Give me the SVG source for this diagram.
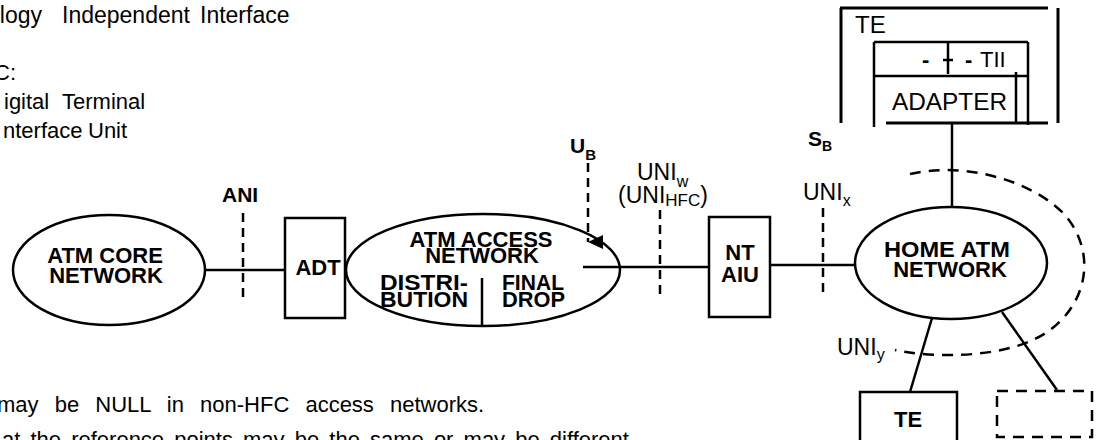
<svg xmlns="http://www.w3.org/2000/svg" width="1096" height="440" viewBox="0 0 1096 440">
<style>
text { font-family: "Liberation Sans", Arial, sans-serif; fill: #000; }
.t { font-size: 22px; }
.f { font-size: 24px; }
.n { font-size: 23px; }
.b { font-size: 22px; font-weight: bold; }
.lbl { font-size: 21px; font-weight: bold; }
.s { stroke: #000; stroke-width: 2.5; fill: none; }
.w { stroke: #000; stroke-width: 3; fill: none; }
.d { stroke: #000; stroke-width: 2.5; fill: none; stroke-dasharray: 9 6; }
.dl { stroke: #000; stroke-width: 2.5; fill: none; stroke-dasharray: 11 8; }
.m { text-anchor: middle; }
</style>
<defs>
<marker id="arr" markerUnits="userSpaceOnUse" markerWidth="16" markerHeight="16" refX="8" refY="15" orient="auto-start-reverse" viewBox="0 0 16 16">
<polygon points="1,0 15,0 8,15" fill="#000"/>
</marker>
</defs>
<rect width="1096" height="440" fill="#fff"/>

<g id="notes">
<text class="n" y="23"><tspan x="-13">ology</tspan><tspan x="62">Independent</tspan><tspan x="200">Interface</tspan></text>
<text class="t" x="-6" y="80">C:</text>
<text class="t" y="109"><tspan x="4">igital</tspan><tspan x="62">Terminal</tspan></text>
<text class="t" y="138"><tspan x="3">nterface</tspan><tspan x="88">Unit</tspan></text>
<text class="t" x="-3" y="412" word-spacing="10">may be NULL in non-HFC access networks.</text>
<text class="t" x="2" y="447" word-spacing="4">at the reference points may be the same or may be different</text>
</g>

<g id="connectors">
<path class="s" d="M205 270 H285"/>
<path class="s" d="M583 267 H709"/>
<path class="s" d="M770 265 H856"/>
<path class="s" d="M952 123 V207"/>
<path class="s" d="M932 318 L910 392"/>
<path class="s" d="M1002 312 L1057 390"/>
<path class="d" d="M243 213 V303"/>
<path class="d" d="M588 163 V242" marker-end="url(#arr)"/>
<path class="d" d="M660 210 V300"/>
<path class="d" d="M823 208 V298"/>
<path class="dl" d="M910 174 C960 162 1030 178 1065 215 C1095 250 1090 300 1050 330 C1010 360 930 358 895 350"/>
</g>

<g id="labels">
<text class="lbl" x="222" y="202">ANI</text>
<text class="lbl" x="570" y="153">U<tspan font-size="15" dy="7">B</tspan></text>
<text class="n" x="637" y="180">UNI<tspan font-size="16" dy="7">w</tspan></text>
<text class="n" x="618" y="203">(UNI<tspan font-size="17" dy="3">HFC</tspan><tspan dy="-3">)</tspan></text>
<text class="lbl" x="808" y="146">S<tspan font-size="14" dy="5">B</tspan></text>
<text class="n" x="803" y="200">UNI<tspan font-size="16" dy="6">x</tspan></text>
<text class="n" x="837" y="355">UNI<tspan font-size="16" dy="5">y</tspan></text>
</g>

<g id="core">
<ellipse class="s" cx="109" cy="270" rx="96" ry="55"/>
<text class="b m" x="105" y="263">ATM CORE</text>
<text class="b m" x="106" y="283">NETWORK</text>
</g>

<g id="adt">
<rect class="s" x="285" y="218" width="60" height="100"/>
<text class="b m" x="318" y="275">ADT</text>
</g>

<g id="access">
<ellipse class="s" cx="483" cy="270" rx="137" ry="56"/>
<path class="s" d="M482 278 V326"/>
<text class="b m" x="481" y="247">ATM ACCESS</text>
<text class="b m" x="482" y="263">NETWORK</text>
<text class="b" x="380" y="290" textLength="88" lengthAdjust="spacingAndGlyphs">DISTRI-</text>
<text class="b" x="380" y="307" textLength="88" lengthAdjust="spacingAndGlyphs">BUTION</text>
<text class="b" x="502" y="290" textLength="62" lengthAdjust="spacingAndGlyphs">FINAL</text>
<text class="b" x="502" y="307" textLength="63" lengthAdjust="spacingAndGlyphs">DROP</text>
</g>

<g id="nt">
<rect class="s" x="709" y="217" width="61" height="100"/>
<text class="b m" x="740" y="260">NT</text>
<text class="b m" x="740" y="282">AIU</text>
</g>

<g id="home">
<ellipse class="s" cx="951" cy="263" rx="96" ry="56"/>
<text class="b m" x="947" y="257" textLength="126" lengthAdjust="spacingAndGlyphs">HOME ATM</text>
<text class="b m" x="950" y="277">NETWORK</text>
</g>

<g id="te-adapter">
<path class="w" d="M840 8 H1048 M841 8 V123 M1058 8 V123 M886 123 H1048"/>
<path class="s" d="M874 42 H1028 M874 42 V127 M1028 42 V125 M874 76 H1028 M1016 72 V122"/>
<path class="s" d="M948 42 V74 M943 60 H953"/>
<text class="f" x="855" y="33">TE</text>
<text class="t" x="922" y="67" font-weight="bold">-</text>
<text class="t" y="67"><tspan x="965" font-weight="bold">-</tspan><tspan x="980">TII</tspan></text>
<text class="n" x="892" y="110" textLength="115" lengthAdjust="spacingAndGlyphs">ADAPTER</text>
</g>

<g id="te">
<rect class="s" x="860" y="392" width="97" height="60"/>
<text class="b m" x="908" y="427">TE</text>
</g>

<g id="other">
<rect class="dl" x="997" y="391" width="95" height="46"/>
</g>
</svg>
